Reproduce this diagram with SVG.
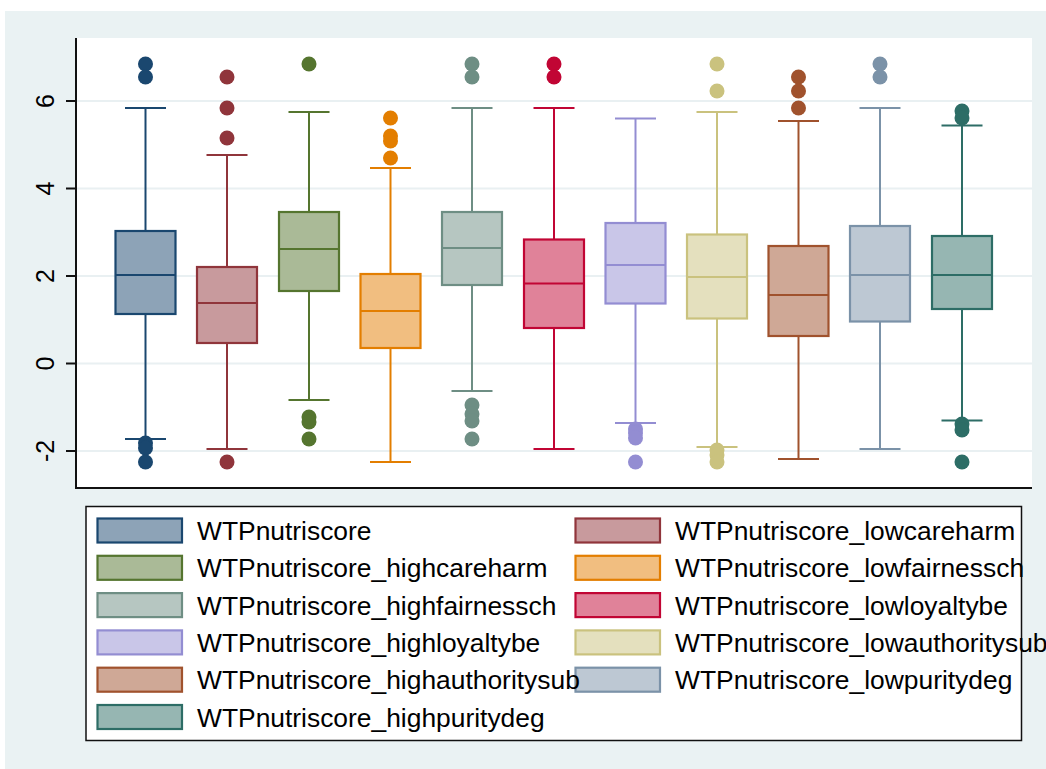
<svg xmlns="http://www.w3.org/2000/svg" width="1046" height="769" viewBox="0 0 1046 769">
<style>
.grid{stroke:#E9F0F2;stroke-width:2}
.ax{stroke:#111;stroke-width:2;fill:none}
.tick{font-family:"Liberation Sans",Arial,sans-serif;font-size:25px;fill:#000}
.lg{font-family:"Liberation Sans",Arial,sans-serif;font-size:26.4px;fill:#000}
.b rect{stroke-width:2.2}
.b line{stroke-width:2}
</style>
<rect x="0" y="0" width="1046" height="769" fill="#FFFFFF"/>
<rect x="5" y="11" width="1041" height="758" fill="#EAF2F3"/>
<rect x="76" y="38" width="956" height="450" fill="#FFFFFF"/>
<g id="grid">
<line class="grid" x1="77" y1="101" x2="1032" y2="101"/>
<line class="grid" x1="77" y1="188.5" x2="1032" y2="188.5"/>
<line class="grid" x1="77" y1="276" x2="1032" y2="276"/>
<line class="grid" x1="77" y1="363.5" x2="1032" y2="363.5"/>
<line class="grid" x1="77" y1="451" x2="1032" y2="451"/>
</g>
<g id="axes">
<line class="ax" x1="76" y1="38" x2="76" y2="489"/>
<line class="ax" x1="75" y1="488" x2="1032" y2="488"/>
<line class="ax" x1="66" y1="101" x2="76" y2="101"/>
<line class="ax" x1="66" y1="188.5" x2="76" y2="188.5"/>
<line class="ax" x1="66" y1="276" x2="76" y2="276"/>
<line class="ax" x1="66" y1="363.5" x2="76" y2="363.5"/>
<line class="ax" x1="66" y1="451" x2="76" y2="451"/>
<text class="tick" text-anchor="middle" transform="translate(54,101) rotate(-90)">6</text>
<text class="tick" text-anchor="middle" transform="translate(54,188.5) rotate(-90)">4</text>
<text class="tick" text-anchor="middle" transform="translate(54,276) rotate(-90)">2</text>
<text class="tick" text-anchor="middle" transform="translate(54,363.5) rotate(-90)">0</text>
<text class="tick" text-anchor="middle" transform="translate(54,451) rotate(-90)">-2</text>
</g>
<g id="box1" class="b">
<line x1="145.5" y1="108" x2="145.5" y2="231" stroke="#1A476F"/>
<line x1="145.5" y1="314" x2="145.5" y2="439" stroke="#1A476F"/>
<line x1="125" y1="108" x2="166" y2="108" stroke="#1A476F"/>
<line x1="125" y1="439" x2="166" y2="439" stroke="#1A476F"/>
<rect x="115.5" y="231" width="60" height="83" fill="#8DA3B7" stroke="#1A476F"/>
<line x1="115.5" y1="275" x2="175.5" y2="275" stroke="#1A476F"/>
<g fill="#1A476F"><circle cx="145.5" cy="64" r="7.5"/><circle cx="145.5" cy="77" r="7.5"/><circle cx="145.5" cy="443" r="7.5"/><circle cx="145.5" cy="448" r="7.5"/><circle cx="145.5" cy="462" r="7.5"/></g>
</g>
<g id="box2" class="b">
<line x1="227" y1="155" x2="227" y2="267" stroke="#90353B"/>
<line x1="227" y1="343" x2="227" y2="449" stroke="#90353B"/>
<line x1="206.5" y1="155" x2="247.5" y2="155" stroke="#90353B"/>
<line x1="206.5" y1="449" x2="247.5" y2="449" stroke="#90353B"/>
<rect x="197" y="267" width="60" height="76" fill="#C89A9D" stroke="#90353B"/>
<line x1="197" y1="303" x2="257" y2="303" stroke="#90353B"/>
<g fill="#90353B"><circle cx="227" cy="77" r="7.5"/><circle cx="227" cy="108" r="7.5"/><circle cx="227" cy="138" r="7.5"/><circle cx="227" cy="462" r="7.5"/></g>
</g>
<g id="box3" class="b">
<line x1="309" y1="112" x2="309" y2="212" stroke="#55752F"/>
<line x1="309" y1="291" x2="309" y2="400" stroke="#55752F"/>
<line x1="288.5" y1="112" x2="329.5" y2="112" stroke="#55752F"/>
<line x1="288.5" y1="400" x2="329.5" y2="400" stroke="#55752F"/>
<rect x="279" y="212" width="60" height="79" fill="#AABA97" stroke="#55752F"/>
<line x1="279" y1="249" x2="339" y2="249" stroke="#55752F"/>
<g fill="#55752F"><circle cx="309" cy="64" r="7.5"/><circle cx="309" cy="417" r="7.5"/><circle cx="309" cy="422" r="7.5"/><circle cx="309" cy="439" r="7.5"/></g>
</g>
<g id="box4" class="b">
<line x1="390.5" y1="168" x2="390.5" y2="274" stroke="#E37E00"/>
<line x1="390.5" y1="348" x2="390.5" y2="462" stroke="#E37E00"/>
<line x1="370" y1="168" x2="411" y2="168" stroke="#E37E00"/>
<line x1="370" y1="462" x2="411" y2="462" stroke="#E37E00"/>
<rect x="360.5" y="274" width="60" height="74" fill="#F1BE80" stroke="#E37E00"/>
<line x1="360.5" y1="311" x2="420.5" y2="311" stroke="#E37E00"/>
<g fill="#E37E00"><circle cx="390.5" cy="118" r="7.5"/><circle cx="390.5" cy="136" r="7.5"/><circle cx="390.5" cy="141" r="7.5"/><circle cx="390.5" cy="158" r="7.5"/></g>
</g>
<g id="box5" class="b">
<line x1="472" y1="108" x2="472" y2="212" stroke="#6E8E84"/>
<line x1="472" y1="285" x2="472" y2="391" stroke="#6E8E84"/>
<line x1="451.5" y1="108" x2="492.5" y2="108" stroke="#6E8E84"/>
<line x1="451.5" y1="391" x2="492.5" y2="391" stroke="#6E8E84"/>
<rect x="442" y="212" width="60" height="73" fill="#B6C6C1" stroke="#6E8E84"/>
<line x1="442" y1="248" x2="502" y2="248" stroke="#6E8E84"/>
<g fill="#6E8E84"><circle cx="472" cy="64" r="7.5"/><circle cx="472" cy="77" r="7.5"/><circle cx="472" cy="405" r="7.5"/><circle cx="472" cy="414" r="7.5"/><circle cx="472" cy="421" r="7.5"/><circle cx="472" cy="439" r="7.5"/></g>
</g>
<g id="box6" class="b">
<line x1="554" y1="108" x2="554" y2="239.5" stroke="#C10534"/>
<line x1="554" y1="328" x2="554" y2="449" stroke="#C10534"/>
<line x1="533.5" y1="108" x2="574.5" y2="108" stroke="#C10534"/>
<line x1="533.5" y1="449" x2="574.5" y2="449" stroke="#C10534"/>
<rect x="524" y="239.5" width="60" height="88.5" fill="#E08299" stroke="#C10534"/>
<line x1="524" y1="283.5" x2="584" y2="283.5" stroke="#C10534"/>
<g fill="#C10534"><circle cx="554" cy="64" r="7.5"/><circle cx="554" cy="77" r="7.5"/></g>
</g>
<g id="box7" class="b">
<line x1="635.5" y1="118.5" x2="635.5" y2="223" stroke="#938DD2"/>
<line x1="635.5" y1="303.5" x2="635.5" y2="423" stroke="#938DD2"/>
<line x1="615" y1="118.5" x2="656" y2="118.5" stroke="#938DD2"/>
<line x1="615" y1="423" x2="656" y2="423" stroke="#938DD2"/>
<rect x="605.5" y="223" width="60" height="80.5" fill="#C9C6E8" stroke="#938DD2"/>
<line x1="605.5" y1="265" x2="665.5" y2="265" stroke="#938DD2"/>
<g fill="#938DD2"><circle cx="635.5" cy="429" r="7.5"/><circle cx="635.5" cy="433" r="7.5"/><circle cx="635.5" cy="438" r="7.5"/><circle cx="635.5" cy="462" r="7.5"/></g>
</g>
<g id="box8" class="b">
<line x1="717" y1="112" x2="717" y2="234.5" stroke="#CAC27E"/>
<line x1="717" y1="318.5" x2="717" y2="447" stroke="#CAC27E"/>
<line x1="696.5" y1="112" x2="737.5" y2="112" stroke="#CAC27E"/>
<line x1="696.5" y1="447" x2="737.5" y2="447" stroke="#CAC27E"/>
<rect x="687" y="234.5" width="60" height="84" fill="#E4E0BE" stroke="#CAC27E"/>
<line x1="687" y1="277" x2="747" y2="277" stroke="#CAC27E"/>
<g fill="#CAC27E"><circle cx="717" cy="64" r="7.5"/><circle cx="717" cy="91" r="7.5"/><circle cx="717" cy="450" r="7.5"/><circle cx="717" cy="455" r="7.5"/><circle cx="717" cy="462" r="7.5"/></g>
</g>
<g id="box9" class="b">
<line x1="798.5" y1="121" x2="798.5" y2="246" stroke="#A0522D"/>
<line x1="798.5" y1="336" x2="798.5" y2="459" stroke="#A0522D"/>
<line x1="778" y1="121" x2="819" y2="121" stroke="#A0522D"/>
<line x1="778" y1="459" x2="819" y2="459" stroke="#A0522D"/>
<rect x="768.5" y="246" width="60" height="90" fill="#CFA896" stroke="#A0522D"/>
<line x1="768.5" y1="295" x2="828.5" y2="295" stroke="#A0522D"/>
<g fill="#A0522D"><circle cx="798.5" cy="77" r="7.5"/><circle cx="798.5" cy="91" r="7.5"/><circle cx="798.5" cy="108" r="7.5"/></g>
</g>
<g id="box10" class="b">
<line x1="880" y1="108" x2="880" y2="226" stroke="#7B92A8"/>
<line x1="880" y1="321.5" x2="880" y2="449" stroke="#7B92A8"/>
<line x1="859.5" y1="108" x2="900.5" y2="108" stroke="#7B92A8"/>
<line x1="859.5" y1="449" x2="900.5" y2="449" stroke="#7B92A8"/>
<rect x="850" y="226" width="60" height="95.5" fill="#BDC8D3" stroke="#7B92A8"/>
<line x1="850" y1="275" x2="910" y2="275" stroke="#7B92A8"/>
<g fill="#7B92A8"><circle cx="880" cy="64" r="7.5"/><circle cx="880" cy="77" r="7.5"/></g>
</g>
<g id="box11" class="b">
<line x1="962" y1="125.5" x2="962" y2="236" stroke="#2D6D66"/>
<line x1="962" y1="309" x2="962" y2="420.5" stroke="#2D6D66"/>
<line x1="941.5" y1="125.5" x2="982.5" y2="125.5" stroke="#2D6D66"/>
<line x1="941.5" y1="420.5" x2="982.5" y2="420.5" stroke="#2D6D66"/>
<rect x="932" y="236" width="60" height="73" fill="#96B6B2" stroke="#2D6D66"/>
<line x1="932" y1="275" x2="992" y2="275" stroke="#2D6D66"/>
<g fill="#2D6D66"><circle cx="962" cy="111" r="7.5"/><circle cx="962" cy="118" r="7.5"/><circle cx="962" cy="424" r="7.5"/><circle cx="962" cy="430" r="7.5"/><circle cx="962" cy="462" r="7.5"/></g>
</g>
<g id="legend">
<rect x="86" y="506.5" width="935.5" height="234" fill="#FFFFFF" stroke="#111" stroke-width="1.5"/>
<g stroke-width="2.2">
<rect x="97.5" y="518.5" width="84.5" height="24" fill="#8DA3B7" stroke="#1A476F"/>
<rect x="97.5" y="555.8" width="84.5" height="24" fill="#AABA97" stroke="#55752F"/>
<rect x="97.5" y="593.1" width="84.5" height="24" fill="#B6C6C1" stroke="#6E8E84"/>
<rect x="97.5" y="630.4" width="84.5" height="24" fill="#C9C6E8" stroke="#938DD2"/>
<rect x="97.5" y="667.7" width="84.5" height="24" fill="#CFA896" stroke="#A0522D"/>
<rect x="97.5" y="705" width="84.5" height="24" fill="#96B6B2" stroke="#2D6D66"/>
<rect x="575.5" y="518.5" width="84.5" height="24" fill="#C89A9D" stroke="#90353B"/>
<rect x="575.5" y="555.8" width="84.5" height="24" fill="#F1BE80" stroke="#E37E00"/>
<rect x="575.5" y="593.1" width="84.5" height="24" fill="#E08299" stroke="#C10534"/>
<rect x="575.5" y="630.4" width="84.5" height="24" fill="#E4E0BE" stroke="#CAC27E"/>
<rect x="575.5" y="667.7" width="84.5" height="24" fill="#BDC8D3" stroke="#7B92A8"/>
</g>
<text class="lg" x="197" y="540">WTPnutriscore</text>
<text class="lg" x="197" y="577.3">WTPnutriscore_highcareharm</text>
<text class="lg" x="197" y="614.6">WTPnutriscore_highfairnessch</text>
<text class="lg" x="197" y="651.9">WTPnutriscore_highloyaltybe</text>
<text class="lg" x="197" y="689.2">WTPnutriscore_highauthoritysub</text>
<text class="lg" x="197" y="726.5">WTPnutriscore_highpuritydeg</text>
<text class="lg" x="675" y="540">WTPnutriscore_lowcareharm</text>
<text class="lg" x="675" y="577.3">WTPnutriscore_lowfairnessch</text>
<text class="lg" x="675" y="614.6">WTPnutriscore_lowloyaltybe</text>
<text class="lg" x="675" y="651.9">WTPnutriscore_lowauthoritysub</text>
<text class="lg" x="675" y="689.2">WTPnutriscore_lowpuritydeg</text>
</g>
</svg>
